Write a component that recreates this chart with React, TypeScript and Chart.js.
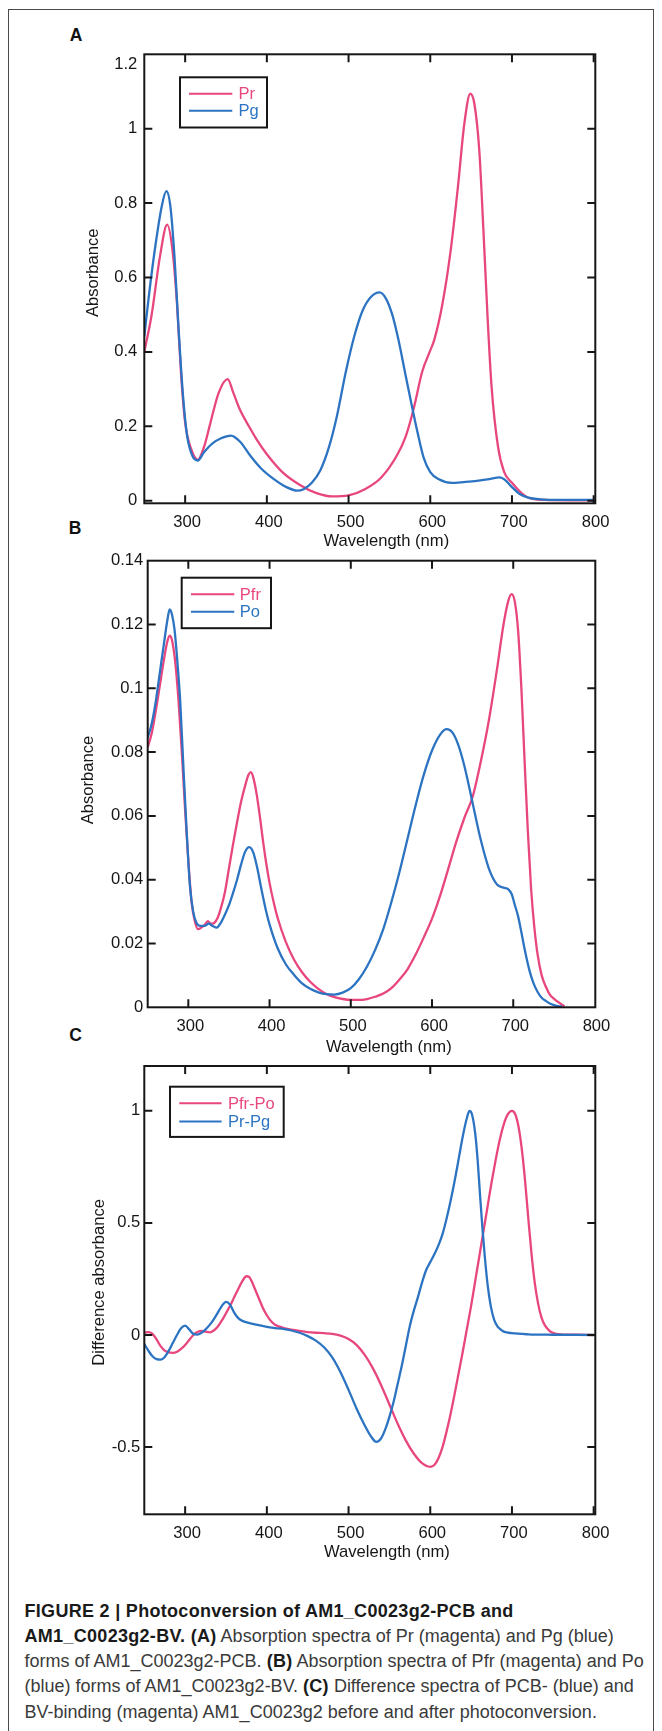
import React, { useEffect, useRef } from 'react';
import { Chart, registerables } from 'chart.js';

Chart.register(...registerables);

const FONT = '"Liberation Sans", Arial, Helvetica, sans-serif';
const MAGENTA = '#E8467F';
const BLUE = '#2C74C2';
const INK = '#161616';

// ---------- Panel A : Pr / Pg ----------
const wlA_Pr = [250, 259, 269, 278, 284.5, 290, 295, 300, 308, 315.5, 323, 331, 341, 352, 359, 367, 378, 388, 400, 419, 440, 460, 480, 500, 520, 540, 560, 570, 580, 590, 600, 605, 615, 625, 634, 641.5, 649, 654, 660, 665, 670, 675, 683, 690.5, 700, 710, 720, 740, 770, 800];
const absA_Pr = [0.40, 0.50, 0.654, 0.742, 0.673, 0.53, 0.34, 0.21, 0.135, 0.11, 0.144, 0.21, 0.29, 0.327, 0.29, 0.245, 0.2, 0.163, 0.125, 0.077, 0.043, 0.021, 0.0115, 0.0144, 0.031, 0.0625, 0.125, 0.173, 0.25, 0.346, 0.404, 0.433, 0.53, 0.673, 0.846, 1.01, 1.094, 1.067, 0.942, 0.73, 0.5, 0.308, 0.144, 0.077, 0.048, 0.024, 0.008, 0.002, 0.001, 0.001];
const wlA_Pg = [250, 256, 264, 271.5, 277, 282, 287, 292, 297.5, 302.5, 309, 315.5, 323, 333.5, 344, 356, 367, 380, 393, 408.6, 424, 437, 445, 455, 465.5, 476, 486, 496.6, 507, 517, 527.6, 538, 545.6, 553.5, 561, 569, 577, 584.5, 592, 600, 610, 626, 641, 657, 672, 685, 693, 700, 710, 720, 740, 770, 800];
const absA_Pg = [0.442, 0.558, 0.692, 0.793, 0.832, 0.79, 0.654, 0.46, 0.279, 0.173, 0.12, 0.108, 0.13, 0.154, 0.168, 0.175, 0.159, 0.12, 0.0865, 0.058, 0.0365, 0.027, 0.031, 0.048, 0.082, 0.144, 0.23, 0.346, 0.442, 0.51, 0.548, 0.56, 0.544, 0.5, 0.433, 0.346, 0.26, 0.183, 0.115, 0.077, 0.058, 0.048, 0.05, 0.053, 0.058, 0.0625, 0.053, 0.0365, 0.0173, 0.008, 0.003, 0.002, 0.002];

// ---------- Panel B : Pfr / Po ----------
const wlB_Pfr = [250, 255, 260, 265, 270, 274, 277, 280, 284, 288, 292, 296, 300, 304, 308, 312, 316, 320, 324, 328, 332, 336, 340, 345, 350, 355, 360, 365, 370, 374, 377, 380, 384, 388, 392, 396, 400, 405, 410, 420, 430, 440, 450, 460, 470, 480, 490, 500, 510, 520, 530, 540, 550, 560, 570, 580, 590, 600, 610, 620, 630, 640, 650, 660, 670, 680, 688, 694, 698, 702, 706, 710, 714, 718, 722, 726, 730, 735, 740, 745, 750, 755, 760, 763];
const absB_Pfr = [0.0815, 0.086, 0.093, 0.101, 0.109, 0.1145, 0.1165, 0.115, 0.108, 0.096, 0.08, 0.062, 0.046, 0.033, 0.027, 0.0245, 0.025, 0.0258, 0.027, 0.0262, 0.0265, 0.028, 0.031, 0.036, 0.0435, 0.051, 0.058, 0.0645, 0.0695, 0.0728, 0.0737, 0.072, 0.067, 0.06, 0.052, 0.045, 0.039, 0.033, 0.028, 0.0205, 0.015, 0.011, 0.008, 0.0058, 0.0042, 0.0032, 0.0026, 0.0023, 0.0023, 0.0026, 0.0033, 0.0043, 0.006, 0.0087, 0.012, 0.0166, 0.022, 0.0278, 0.035, 0.0434, 0.052, 0.0595, 0.066, 0.077, 0.09, 0.106, 0.12, 0.1275, 0.1295, 0.127, 0.118, 0.1, 0.077, 0.055, 0.037, 0.025, 0.0165, 0.01, 0.0065, 0.004, 0.0027, 0.0017, 0.0008, 0.0003];
const wlB_Po = [250, 255, 260, 265, 270, 274, 277, 280, 283, 286, 290, 294, 298, 302, 306, 310, 315, 320, 325, 330, 335, 340, 345, 350, 355, 360, 365, 370, 375, 380, 385, 390, 395, 400, 410, 420, 430, 440, 450, 460, 470, 480, 490, 500, 510, 520, 530, 540, 550, 560, 570, 580, 590, 600, 610, 618, 625, 632, 640, 650, 660, 670, 680, 688, 694, 698, 702, 706, 710, 715, 720, 725, 730, 735, 740, 745, 750, 755, 760];
const absB_Po = [0.0845, 0.089, 0.096, 0.105, 0.114, 0.121, 0.1247, 0.123, 0.1185, 0.11, 0.096, 0.075, 0.055, 0.038, 0.03, 0.0265, 0.0255, 0.0255, 0.0262, 0.0255, 0.025, 0.0265, 0.029, 0.032, 0.0358, 0.04, 0.0448, 0.0488, 0.0502, 0.0485, 0.0435, 0.037, 0.031, 0.026, 0.0185, 0.0135, 0.0102, 0.0075, 0.0058, 0.0047, 0.0041, 0.004, 0.0046, 0.006, 0.0088, 0.0128, 0.018, 0.0245, 0.033, 0.0425, 0.053, 0.0635, 0.073, 0.0805, 0.0855, 0.0872, 0.0862, 0.0825, 0.0755, 0.064, 0.0525, 0.0435, 0.0385, 0.0375, 0.037, 0.0355, 0.032, 0.0285, 0.0235, 0.017, 0.0115, 0.0075, 0.0048, 0.003, 0.002, 0.0012, 0.0007, 0.0004, 0.0002];

// ---------- Panel C : difference spectra ----------
const wlC_PfrPo = [250, 255, 260, 265, 270, 275, 280, 285, 290, 295, 300, 305, 310, 315, 320, 325, 330, 335, 340, 345, 350, 355, 360, 365, 370, 375, 378, 382, 386, 390, 395, 400, 405, 410, 420, 430, 440, 450, 460, 470, 480, 490, 500, 510, 520, 530, 540, 550, 560, 570, 580, 590, 600, 605, 610, 615, 620, 625, 630, 635, 640, 645, 650, 655, 660, 665, 670, 675, 680, 685, 690, 695, 700, 704, 708, 712, 716, 720, 724, 728, 732, 736, 740, 745, 750, 760, 780, 800];
const dC_PfrPo = [0.01, 0.013, 0.005, -0.02, -0.05, -0.07, -0.078, -0.08, -0.075, -0.062, -0.045, -0.022, 0.0, 0.013, 0.018, 0.015, 0.012, 0.02, 0.038, 0.065, 0.097, 0.13, 0.168, 0.205, 0.24, 0.262, 0.26, 0.235, 0.2, 0.165, 0.122, 0.088, 0.062, 0.046, 0.032, 0.024, 0.018, 0.013, 0.01, 0.008, 0.005, -0.003, -0.018, -0.045, -0.09, -0.15, -0.225, -0.31, -0.395, -0.47, -0.53, -0.572, -0.588, -0.58, -0.55, -0.5, -0.43, -0.35, -0.26, -0.165, -0.07, 0.03, 0.13, 0.24, 0.35, 0.46, 0.57, 0.68, 0.78, 0.87, 0.94, 0.985, 1.0, 0.985, 0.93, 0.83, 0.69, 0.52, 0.36, 0.23, 0.14, 0.08, 0.045, 0.022, 0.01, 0.003, 0.001, 0.0];
const wlC_PrPg = [250, 255, 260, 265, 270, 275, 280, 285, 290, 295, 300, 305, 310, 315, 320, 325, 330, 335, 340, 345, 350, 355, 360, 365, 370, 380, 390, 400, 410, 420, 430, 440, 450, 460, 470, 480, 490, 500, 510, 520, 527, 534, 540, 545, 550, 555, 560, 565, 570, 575, 580, 585, 590, 595, 600, 605, 610, 615, 620, 625, 630, 635, 640, 645, 648, 651, 655, 658, 661, 664, 667, 670, 674, 678, 682, 686, 690, 700, 720, 750, 800];
const dC_PrPg = [-0.04, -0.07, -0.095, -0.108, -0.11, -0.098, -0.07, -0.035, 0.0, 0.03, 0.042, 0.025, 0.005, 0.002, 0.01, 0.025, 0.045, 0.07, 0.1, 0.13, 0.148, 0.135, 0.1, 0.075, 0.063, 0.052, 0.044, 0.036, 0.031, 0.027, 0.02, 0.01, -0.005, -0.025, -0.055, -0.1, -0.165, -0.245, -0.33, -0.405, -0.45, -0.477, -0.46, -0.42, -0.365, -0.3, -0.22, -0.14, -0.05, 0.04, 0.11, 0.17, 0.235, 0.29, 0.325, 0.36, 0.4, 0.45, 0.52, 0.6, 0.69, 0.79, 0.89, 0.97, 1.0, 0.985, 0.9, 0.78, 0.62, 0.47, 0.34, 0.23, 0.13, 0.07, 0.04, 0.025, 0.015, 0.008, 0.003, 0.001, 0.0];

// ---------- tick labels ----------
const xTicks = [300, 400, 500, 600, 700, 800];
const yTicksA = [0, 0.2, 0.4, 0.6, 0.8, 1, 1.2];
const yTicksB = [0, 0.02, 0.04, 0.06, 0.08, 0.1, 0.12, 0.14];
const yTicksC = [-0.5, 0, 0.5, 1];

type Series = { label: string; color: string; x: number[]; y: number[]; order: number };
type Panel = {
  canvasTop: number; canvasHeight: number;
  area: { left: number; top: number; right: number; bottom: number };
  xMin: number; xMax: number; yMin: number; yMax: number;
  yTicks: number[]; yTitle: string; yTickPad: number; shiftTopLabel: boolean;
  series: Series[];
  legend: { dx: number; dy: number; w: number; h: number; rows: number[]; line0: number; line1: number; text: number };
  xTitlePos: { dx: number; dy: number }; yTitlePos: { dx: number; dy: number };
};

const fmt = (v: number) => String(Math.round(v * 1000) / 1000);
const AXIS_W = 60;
const TICK_LEN = 8;
const TICK_FONT = 16.6;

const panels: Panel[] = [
  {
    canvasTop: 0, canvasHeight: 560,
    area: { left: 144.3, top: 54.3, right: 595.3, bottom: 503.3 },
    xMin: 250, xMax: 802, yMin: -0.007, yMax: 1.2,
    yTicks: yTicksA, yTitle: 'Absorbance', yTickPad: 7, shiftTopLabel: true,
    series: [
      { label: 'Pr', color: MAGENTA, x: wlA_Pr, y: absA_Pr, order: 1 },
      { label: 'Pg', color: BLUE, x: wlA_Pg, y: absA_Pg, order: 0 },
    ],
    legend: { dx: 35.7, dy: 23, w: 87, h: 50.2, rows: [39.4, 56.4], line0: 44.7, line1: 88, text: 94.2 },
    xTitlePos: { dx: 16.5, dy: 37.7 }, yTitlePos: { dx: -50.6, dy: -6 },
  },
  {
    canvasTop: 540, canvasHeight: 525,
    area: { left: 147.7, top: 560.7, right: 595.3, bottom: 1007.3 },
    xMin: 250, xMax: 801, yMin: 0, yMax: 0.14,
    yTicks: yTicksB, yTitle: 'Absorbance', yTickPad: 4.5, shiftTopLabel: false,
    series: [
      { label: 'Pfr', color: MAGENTA, x: wlB_Pfr, y: absB_Pfr, order: 1 },
      { label: 'Po', color: BLUE, x: wlB_Po, y: absB_Po, order: 0 },
    ],
    legend: { dx: 34, dy: 17, w: 89.3, h: 50.5, rows: [33.6, 51], line0: 43.3, line1: 86.6, text: 92.1 },
    xTitlePos: { dx: 17.3, dy: 39.7 }, yTitlePos: { dx: -59, dy: -4 },
  },
  {
    canvasTop: 1050, canvasHeight: 530,
    area: { left: 144.3, top: 1066, right: 595.3, bottom: 1514.3 },
    xMin: 250, xMax: 802, yMin: -0.8, yMax: 1.2,
    yTicks: yTicksC, yTitle: 'Difference absorbance', yTickPad: 4, shiftTopLabel: false,
    series: [
      { label: 'Pfr-Po', color: MAGENTA, x: wlC_PfrPo, y: dC_PfrPo, order: 1 },
      { label: 'Pr-Pg', color: BLUE, x: wlC_PrPg, y: dC_PrPg, order: 0 },
    ],
    legend: { dx: 25.7, dy: 20.7, w: 113.7, h: 50.2, rows: [37.3, 55.5], line0: 35, line1: 77.3, text: 83.7 },
    xTitlePos: { dx: 17.1, dy: 37.7 }, yTitlePos: { dx: -45.1, dy: -7.8 },
  },
];

function framePlugin(p: Panel) {
  return {
    id: 'frame',
    afterDraw(chart: any) {
      const ctx = chart.ctx;
      const a = chart.chartArea;
      const xs = chart.scales.x;
      const ys = chart.scales.y;
      ctx.save();
      ctx.strokeStyle = INK;
      ctx.lineWidth = 2;
      ctx.lineCap = 'butt';
      ctx.strokeRect(a.left, a.top, a.right - a.left, a.bottom - a.top);
      ctx.beginPath();
      for (const t of xs.ticks) {
        const px = xs.getPixelForValue(t.value);
        if (px < a.left + 1 || px > a.right - 1) continue;
        ctx.moveTo(px, a.bottom); ctx.lineTo(px, a.bottom - TICK_LEN);
        ctx.moveTo(px, a.top); ctx.lineTo(px, a.top + TICK_LEN);
      }
      for (const t of ys.ticks) {
        const py = ys.getPixelForValue(t.value);
        if (py < a.top + 1 || py > a.bottom - 1) continue;
        ctx.moveTo(a.left, py); ctx.lineTo(a.left + TICK_LEN, py);
        ctx.moveTo(a.right, py); ctx.lineTo(a.right - TICK_LEN, py);
      }
      ctx.stroke();

      // legend box
      const L = p.legend;
      ctx.strokeRect(a.left + L.dx, a.top + L.dy, L.w, L.h);
      ctx.font = `16.5px ${FONT}`;
      ctx.textAlign = 'left';
      ctx.textBaseline = 'middle';
      p.series.forEach((s, i) => {
        const y = a.top + L.rows[i];
        ctx.strokeStyle = s.color;
        ctx.beginPath();
        ctx.moveTo(a.left + L.line0, y);
        ctx.lineTo(a.left + L.line1, y);
        ctx.stroke();
        ctx.fillStyle = s.color;
        ctx.fillText(s.label, a.left + L.text, y + 1);
      });

      // axis titles
      ctx.fillStyle = INK;
      ctx.font = `${TICK_FONT}px ${FONT}`;
      ctx.textAlign = 'center';
      ctx.textBaseline = 'middle';
      ctx.fillText('Wavelength (nm)', (a.left + a.right) / 2 + p.xTitlePos.dx, a.bottom + p.xTitlePos.dy);
      ctx.translate(a.left + p.yTitlePos.dx, (a.top + a.bottom) / 2 + p.yTitlePos.dy);
      ctx.rotate(-Math.PI / 2);
      ctx.fillText(p.yTitle, 0, 0);
      ctx.restore();
    },
  };
}

function ChartPanel({ p }: { p: Panel }) {
  const ref = useRef<HTMLCanvasElement | null>(null);
  useEffect(() => {
    if (!ref.current) return;
    const chart = new Chart(ref.current, {
      type: 'line',
      data: {
        datasets: p.series.map((s) => ({
          label: s.label,
          data: s.x.map((x, i) => ({ x, y: s.y[i] })),
          borderColor: s.color,
          backgroundColor: s.color,
          borderWidth: 2.3,
          pointRadius: 0,
          fill: false,
          cubicInterpolationMode: 'monotone',
          order: s.order,
        })),
      },
      options: {
        responsive: false,
        maintainAspectRatio: false,
        animation: false,
        devicePixelRatio: 1,
        layout: {
          padding: {
            left: p.area.left - AXIS_W,
            right: 662 - p.area.right,
            top: p.area.top - p.canvasTop,
            bottom: 0,
          },
        },
        plugins: { legend: { display: false }, tooltip: { enabled: false } },
        scales: {
          x: {
            type: 'linear',
            position: 'bottom',
            min: p.xMin,
            max: p.xMax,
            grid: { display: false, drawTicks: false },
            border: { display: false },
            ticks: {
              font: { family: FONT, size: TICK_FONT },
              color: INK,
              padding: 9,
              labelOffset: 2,
              maxRotation: 0,
              autoSkip: false,
              callback: (v: any) => fmt(Number(v)),
            },
            afterBuildTicks: (s: any) => { s.ticks = xTicks.map((v) => ({ value: v })); },
            afterFit: (s: any) => { s.height = p.canvasTop + p.canvasHeight - p.area.bottom; },
          },
          y: {
            type: 'linear',
            position: 'left',
            min: p.yMin,
            max: p.yMax,
            grid: { display: false, drawTicks: false },
            border: { display: false },
            ticks: {
              font: { family: FONT, size: TICK_FONT },
              color: INK,
              padding: p.yTickPad,
              autoSkip: false,
              callback: (v: any) => {
                const n = Number(v);
                if (p.shiftTopLabel && Math.abs(n - p.yMax) < 1e-9) return ['', fmt(n)];
                return fmt(n);
              },
            },
            afterBuildTicks: (s: any) => { s.ticks = p.yTicks.map((v) => ({ value: v })); },
            afterFit: (s: any) => { s.width = AXIS_W; },
          },
        },
      } as any,
      plugins: [framePlugin(p)],
    });
    return () => chart.destroy();
  }, [p]);
  return (
    <canvas
      ref={ref}
      width={662}
      height={p.canvasHeight}
      style={{ position: 'absolute', left: 0, top: p.canvasTop, width: 662, height: p.canvasHeight }}
    />
  );
}

const panelLabels = [
  { text: 'A', x: 76, y: 36 },
  { text: 'B', x: 75, y: 529 },
  { text: 'C', x: 75.5, y: 1036 },
];

export default function App() {
  const b: React.CSSProperties = { fontWeight: 700, color: '#1a1a1a', letterSpacing: '0.3px' };
  const line: React.CSSProperties = { whiteSpace: 'nowrap', height: 25.3 };
  return (
    <div style={{ position: 'absolute', left: 0, top: 0, width: 662, height: 1731, overflow: 'hidden', background: '#fff', fontFamily: FONT }}>
      <div style={{ position: 'absolute', left: 8, top: 9, width: 646, height: 1760, border: '1px solid #4a4a4a', boxSizing: 'border-box' }} />
      {panelLabels.map((l) => (
        <div key={l.text} style={{ position: 'absolute', left: l.x, top: l.y, transform: 'translate(-50%, -50%)', fontWeight: 700, fontSize: 17.5, lineHeight: 1, color: '#111' }}>{l.text}</div>
      ))}
      {panels.map((p, i) => <ChartPanel key={i} p={p} />)}
      <div style={{ position: 'absolute', left: 24.5, top: 1598.5, fontSize: 18, lineHeight: '25.3px', color: '#3a3a3a' }}>
        <div style={line}><span style={b}>FIGURE 2 | Photoconversion of AM1_C0023g2-PCB and</span></div>
        <div style={line}><span style={b}>AM1_C0023g2-BV. (A)</span> Absorption spectra of Pr (magenta) and Pg (blue)</div>
        <div style={line}>forms of AM1_C0023g2-PCB. <span style={b}>(B)</span> Absorption spectra of Pfr (magenta) and Po</div>
        <div style={line}>(blue) forms of AM1_C0023g2-BV. <span style={b}>(C)</span> Difference spectra of PCB- (blue) and</div>
        <div style={line}>BV-binding (magenta) AM1_C0023g2 before and after photoconversion.</div>
      </div>
    </div>
  );
}
